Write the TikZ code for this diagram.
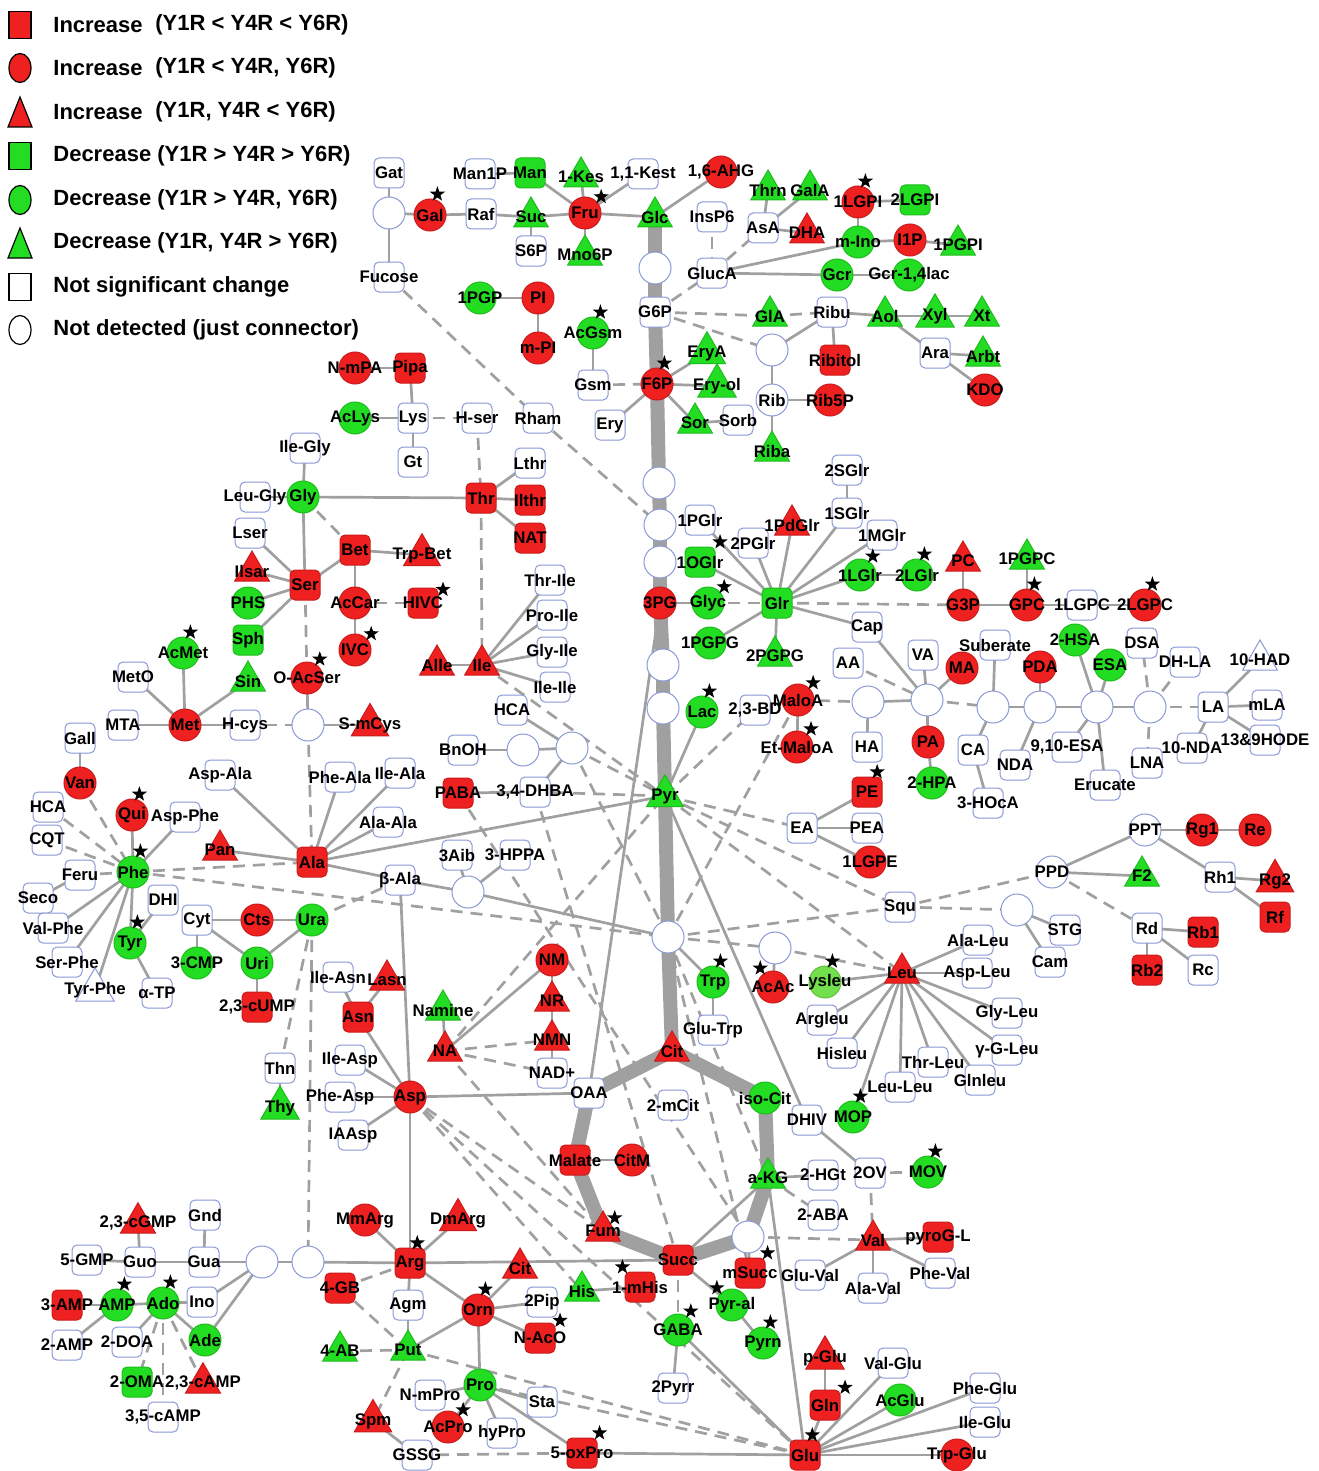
\documentclass[tikz,border=0pt]{standalone}
\usepackage{fontspec}
\setmainfont{Liberation Sans}
\usetikzlibrary{shapes.geometric, positioning}

\definecolor{upred}{HTML}{EE2020}
\definecolor{dngreen}{HTML}{22DD22}
\definecolor{litegreen}{HTML}{72E04C}
\definecolor{nsblue}{HTML}{8A98D6}
\definecolor{linkgray}{HTML}{A0A0A0}

\pgfdeclarelayer{links}
\pgfsetlayers{links,main}

\tikzset{
  met/.style={inner sep=0pt, text=black, line width=0.5pt,
    font=\bfseries\fontsize{8.4}{9}\selectfont,
    execute at begin node={\hbox to 0pt\bgroup\hss},
    execute at end node={\hss\egroup}},
  sqr/.style={met, rectangle, rounded corners=2.5pt, minimum size=15pt},
  crc/.style={met, circle, minimum size=16pt},
  trg/.style={met, regular polygon, regular polygon sides=3, minimum size=20pt},
  incr/.style={fill=upred, draw=upred!85!black},
  decr/.style={fill=dngreen, draw=dngreen!85!black},
  nochg/.style={fill=white, draw=nsblue},
  upsq/.style={sqr, incr}, upci/.style={crc, incr}, uptr/.style={trg, incr},
  dnsq/.style={sqr, decr}, dnci/.style={crc, decr}, dntr/.style={trg, decr},
  nssq/.style={sqr, nochg}, ndci/.style={crc, nochg}, nstr/.style={trg, nochg},
  starmark/.style={star, star points=5, star point ratio=2.5, fill=black, draw=none,
    inner sep=0pt, minimum size=8pt},
  starred/.style={label={[starmark]#1:{}}},
  starred/.default=80,
  link/.style={draw=linkgray, line width=1.35pt},
  dlink/.style={link, dash pattern=on 6pt off 4pt},
  trunk/.style={draw=linkgray, line width=7pt, line cap=round},
  keysq/.style={draw=black, line width=0.6pt, rectangle, minimum width=11pt, minimum height=13.5pt, inner sep=0pt},
  keyov/.style={draw=black, line width=0.6pt, ellipse, minimum width=11pt, minimum height=14.5pt, inner sep=0pt},
  keytxt/.style={anchor=west, inner sep=0pt, font=\bfseries\fontsize{11}{13}\selectfont}
}

\begin{document}
\begin{tikzpicture}[x=0.5pt, y=-0.5pt]
\useasboundingbox (0,0) rectangle (1318,1471);

% legend
\node[keysq, fill=upred] (key1) at (20,25) {};
\node[keytxt] (key1a) at (53,25) {Increase};
\node[keytxt] (key1b) at (155,25) {(Y1R < Y4R < Y6R)};
\node[keyov, fill=upred] (key2) at (20,68) {};
\node[keytxt] (key2a) at (53,68) {Increase};
\node[keytxt] (key2b) at (155,68) {(Y1R < Y4R, Y6R)};
\filldraw[fill=upred, draw=black, line width=0.6pt] (8,127) -- (32,127) -- (20,97) -- cycle;
\node[keytxt] (key3a) at (53,112) {Increase};
\node[keytxt] (key3b) at (155,112) {(Y1R, Y4R < Y6R)};
\node[keysq, fill=dngreen] (key4) at (20,156) {};
\node[keytxt] (key4a) at (53,156) {Decrease (Y1R > Y4R > Y6R)};
\node[keyov, fill=dngreen] (key5) at (20,200) {};
\node[keytxt] (key5a) at (53,200) {Decrease (Y1R > Y4R, Y6R)};
\filldraw[fill=dngreen, draw=black, line width=0.6pt] (8,258) -- (32,258) -- (20,228) -- cycle;
\node[keytxt] (key6a) at (53,243) {Decrease (Y1R, Y4R > Y6R)};
\node[keysq, fill=white] (key7) at (20,287) {};
\node[keytxt] (key7a) at (53,287) {Not significant change};
\node[keyov, fill=white] (key8) at (20,330) {};
\node[keytxt] (key8a) at (53,330) {Not detected (just connector)};

% sugars
\node[nssq] (gat) at (389,173) {Gat};
\node[ndci] (c1) at (389,213) {};
\node[upci, starred] (gal) at (430,215) {Gal};
\node[nssq] (fuc) at (389,277) {Fucose};
\node[nssq] (raf) at (481,214) {Raf};
\node[nssq] (manp) at (480,174) {Man1P};
\node[dnsq] (man) at (530,173) {Man};
\node[dntr] (suc) at (531,217) {Suc};
\node[nssq] (ssp) at (531,251) {S6P};
\node[dntr] (kes) at (581,177) {1-Kes};
\node[nssq] (kest) at (643,174) {1,1-Kest};
\node[upci, starred=45] (fru) at (585,213) {Fru};
\node[dntr] (mno) at (585,255) {Mno6P};
\node[dntr] (glc) at (655,217) {Glc};
\node[upci] (ahg) at (721,172) {1,6-AHG};
\node[nssq] (insp) at (712,217) {InsP6};
\node[nssq] (gluca) at (712,273) {GlucA};
\node[dntr] (thrn) at (768,190) {Thrn};
\node[dntr] (gala) at (810,190) {GalA};
\node[nssq] (asa) at (763,228) {AsA};
\node[uptr] (dha) at (807,233) {DHA};
\node[upci, starred] (lgpi) at (858,202) {1LGPI};
\node[dnci] (ino) at (858,242) {m-Ino};
\node[dnsq] (lgpit) at (915,200) {2LGPI};
\node[upci] (ip) at (910,240) {I1P};
\node[dntr] (pgpi) at (958,245) {1PGPI};
\node[dnci] (gcr) at (837,275) {Gcr};
\node[dnci] (gcrl) at (909,275) {Gcr-1,4lac};
\node[ndci] (c2) at (655,268) {};
\node[nssq] (g6p) at (655,312) {G6P};
\node[upci, starred] (f6p) at (657,384) {F6P};
\node[dntr] (gla) at (770,316) {GlA};
\node[nssq] (ribu) at (832,312) {Ribu};
\node[dntr] (aol) at (885,316) {Aol};
\node[dntr] (xyl) at (935,316) {Xyl};
\node[dntr] (xt) at (982,316) {Xt};
\node[nssq] (ara) at (935,353) {Ara};
\node[dntr] (arbt) at (983,356) {Arbt};
\node[upci] (kdo) at (985,390) {KDO};
\node[ndci] (c3) at (772,350) {};
\node[upsq] (ribl) at (835,360) {Ribitol};
\node[ndci] (rib) at (772,400) {Rib};
\node[upci] (ribp) at (830,400) {Rib5P};
\node[dntr] (riba) at (772,451) {Riba};
\node[dnci] (pgp) at (480,298) {1PGP};
\node[upci] (pi) at (538,298) {PI};
\node[upci] (mpi) at (538,348) {m-PI};
\node[dnci, starred] (acgsm) at (593,333) {AcGsm};
\node[nssq] (gsm) at (593,385) {Gsm};
\node[nssq] (ery) at (610,425) {Ery};
\node[dntr] (erya) at (707,353) {EryA};
\node[dntr] (eryol) at (717,386) {Ery-ol};
\node[dntr] (sor) at (695,423) {Sor};
\node[nssq] (sorb) at (738,420) {Sorb};

% amino acids, upper left
\node[nssq] (hser) at (477,418) {H-ser};
\node[nssq] (rham) at (538,418) {Rham};
\node[nssq] (lthr) at (530,463) {Lthr};
\node[upsq] (thr) at (481,498) {Thr};
\node[upsq] (ilthr) at (530,500) {Ilthr};
\node[upsq] (nat) at (530,538) {NAT};
\node[upci] (nmpa) at (355,368) {N-mPA};
\node[upsq] (pipa) at (410,368) {Pipa};
\node[dnci] (aclys) at (355,418) {AcLys};
\node[nssq] (lys) at (413,418) {Lys};
\node[nssq] (gt) at (413,462) {Gt};
\node[nssq] (ilegly) at (305,448) {Ile-Gly};
\node[dnci] (gly) at (303,497) {Gly};
\node[nssq] (leugly) at (255,497) {Leu-Gly};
\node[nssq] (lser) at (250,533) {Lser};
\node[uptr] (ilsar) at (252,571) {Ilsar};
\node[upsq] (ser) at (305,585) {Ser};
\node[upsq] (bet) at (355,550) {Bet};
\node[uptr] (trpbet) at (422,555) {Trp-Bet};
\node[dnci] (phs) at (248,603) {PHS};
\node[upci] (accar) at (355,603) {AcCar};
\node[upsq, starred=30] (hivc) at (423,603) {HIVC};
\node[dnsq] (sph) at (248,640) {Sph};
\node[upci, starred=45] (ivc) at (355,650) {IVC};
\node[dnci, starred] (acmet) at (183,653) {AcMet};
\node[nssq] (meto) at (133,677) {MetO};
\node[dntr] (sin) at (248,681) {Sin};
\node[upci, starred=60] (oacser) at (307,678) {O-AcSer};
\node[nssq] (mta) at (123,725) {MTA};
\node[upci] (met) at (185,725) {Met};
\node[nssq] (hcys) at (245,725) {H-cys};
\node[ndci] (c22) at (308,725) {};
\node[uptr] (smcys) at (370,725) {S-mCys};
\node[uptr] (alle) at (437,665) {Alle};
\node[uptr] (ile) at (482,665) {Ile};
\node[nssq] (thrile) at (550,580) {Thr-Ile};
\node[nssq] (proile) at (552,615) {Pro-Ile};
\node[nssq] (glyile) at (552,652) {Gly-Ile};
\node[nssq] (ileile) at (555,687) {Ile-Ile};
\node[nssq] (hca) at (512,710) {HCA};
\node[nssq] (bnoh) at (463,750) {BnOH};
\node[ndci] (c20) at (523,750) {};
\node[ndci] (c21) at (572,748) {};
\node[nssq] (dhba) at (535,792) {3,4-DHBA};
\node[upsq] (paba) at (458,793) {PABA};

% aromatics and alanine
\node[nssq] (gall) at (80,738) {Gall};
\node[upci] (van) at (80,783) {Van};
\node[nssq] (hcal) at (48,807) {HCA};
\node[upci, starred] (qui) at (132,815) {Qui};
\node[nssq] (aspphe) at (185,817) {Asp-Phe};
\node[nssq] (cqt) at (47,840) {CQT};
\node[nssq] (aspala) at (220,775) {Asp-Ala};
\node[nssq] (pheala) at (340,777) {Phe-Ala};
\node[nssq] (ileala) at (400,773) {Ile-Ala};
\node[nssq] (alaala) at (388,822) {Ala-Ala};
\node[uptr] (pan) at (220,850) {Pan};
\node[upsq] (ala) at (312,862) {Ala};
\node[nssq] (bala) at (400,880) {β-Ala};
\node[nssq] (feru) at (80,875) {Feru};
\node[dnci, starred] (phe) at (133,872) {Phe};
\node[nssq] (seco) at (38,898) {Seco};
\node[nssq] (dhi) at (163,900) {DHI};
\node[nssq] (valphe) at (53,928) {Val-Phe};
\node[dnci, starred] (tyr) at (130,943) {Tyr};
\node[nssq] (serphe) at (67,962) {Ser-Phe};
\node[nstr] (tyrphe) at (95,990) {Tyr-Phe};
\node[nssq] (atp) at (157,993) {α-TP};
\node[nssq] (cyt) at (197,920) {Cyt};
\node[upci] (cts) at (257,920) {Cts};
\node[dnci] (ura) at (312,920) {Ura};
\node[dnci] (cmp) at (197,963) {3-CMP};
\node[dnci] (uri) at (257,963) {Uri};
\node[upsq] (cump) at (257,1007) {2,3-cUMP};
\node[nssq] (ileasn) at (338,977) {Ile-Asn};
\node[uptr] (lasn) at (387,980) {Lasn};
\node[upsq] (asn) at (358,1017) {Asn};
\node[nssq] (thn) at (280,1068) {Thn};
\node[dntr] (thy) at (280,1108) {Thy};
\node[nssq] (ileasp) at (350,1060) {Ile-Asp};
\node[nssq] (pheasp) at (340,1097) {Phe-Asp};
\node[nssq] (iaasp) at (353,1135) {IAAsp};
\node[upci] (asp) at (410,1097) {Asp};

% central column
\node[ndci] (c4) at (659,483) {};
\node[ndci] (c5) at (660,525) {};
\node[ndci] (c6) at (660,562) {};
\node[upci] (pg3) at (660,603) {3PG};
\node[ndci] (c7) at (663,665) {};
\node[ndci] (c8) at (663,708) {};
\node[dntr] (pyr) at (665,796) {Pyr};
\node[ndci] (c9) at (668,937) {};
\node[uptr] (cit) at (672,1051) {Cit};

% glycerolipids
\node[nssq] (pglr) at (700,520) {1PGlr};
\node[dnsq, starred=45] (oglr) at (700,562) {1OGlr};
\node[dnci, starred=45] (glyc) at (708,603) {Glyc};
\node[dnsq] (glr) at (777,603) {Glr};
\node[dnci] (pgpg) at (710,643) {1PGPG};
\node[dntr] (pgpgt) at (775,656) {2PGPG};
\node[nssq] (pglrt) at (753,543) {2PGlr};
\node[uptr] (pdglr) at (792,525) {1PdGlr};
\node[nssq] (sglr) at (847,513) {1SGlr};
\node[nssq] (sglrt) at (847,470) {2SGlr};
\node[nssq] (mglr) at (882,535) {1MGlr};
\node[dnci, starred=60] (lglr) at (860,575) {1LGlr};
\node[dnci, starred] (lglrt) at (917,575) {2LGlr};
\node[uptr] (pc) at (963,561) {PC};
\node[upci] (g3p) at (963,605) {G3P};
\node[dntr] (pgpc) at (1027,559) {1PGPC};
\node[upci, starred] (gpc) at (1027,605) {GPC};
\node[nssq] (lgpc) at (1082,605) {1LGPC};
\node[upci, starred] (lgpct) at (1145,605) {2LGPC};
\node[nssq] (cap) at (867,627) {Cap};
\node[dnci, starred] (lac) at (702,712) {Lac};
\node[nssq] (bd) at (755,710) {2,3-BD};
\node[upci, starred=50] (maloa) at (798,700) {MaloA};
\node[upci, starred=55] (etmaloa) at (797,747) {Et-MaloA};
\node[nssq] (aa) at (848,663) {AA};
\node[ndci] (c10) at (868,702) {};
\node[nssq] (ha) at (867,747) {HA};
\node[upsq, starred=70] (pe) at (867,792) {PE};
\node[nssq] (ea) at (802,828) {EA};
\node[nssq] (pea) at (867,828) {PEA};
\node[upci] (lgpe) at (870,862) {1LGPE};

% fatty acids
\node[nssq] (va) at (923,655) {VA};
\node[upci] (ma) at (962,668) {MA};
\node[ndci] (c11) at (927,700) {};
\node[upci] (pa) at (928,742) {PA};
\node[dnci] (hpa) at (932,783) {2-HPA};
\node[nssq] (sub) at (995,645) {Suberate};
\node[ndci] (c12) at (993,707) {};
\node[nssq] (ca) at (973,750) {CA};
\node[nssq] (hoca) at (988,803) {3-HOcA};
\node[upci] (pda) at (1040,667) {PDA};
\node[ndci] (c13) at (1040,707) {};
\node[nssq] (nda) at (1015,765) {NDA};
\node[dnci] (hsa) at (1075,640) {2-HSA};
\node[dnci] (esa) at (1110,665) {ESA};
\node[ndci] (c14) at (1097,707) {};
\node[nssq] (esat) at (1067,747) {9,10-ESA};
\node[nssq] (eruc) at (1105,785) {Erucate};
\node[nssq] (dsa) at (1142,643) {DSA};
\node[ndci] (c15) at (1150,707) {};
\node[nssq] (lna) at (1147,763) {LNA};
\node[nssq] (dhla) at (1185,662) {DH-LA};
\node[nssq] (la) at (1213,707) {LA};
\node[nstr] (had) at (1260,660) {10-HAD};
\node[nssq] (mla) at (1267,705) {mLA};
\node[nssq] (hode) at (1265,740) {13\&9HODE};
\node[nssq] (ndat) at (1192,748) {10-NDA};

% ginsenosides
\node[ndci] (ppt) at (1145,830) {PPT};
\node[upci] (rgo) at (1202,830) {Rg1};
\node[upci] (re) at (1255,830) {Re};
\node[ndci] (ppd) at (1052,872) {PPD};
\node[dntr] (ftwo) at (1142,876) {F2};
\node[nssq] (rhone) at (1220,877) {Rh1};
\node[uptr] (rgtwo) at (1275,881) {Rg2};
\node[upsq] (rf) at (1275,917) {Rf};
\node[nssq] (squ) at (900,907) {Squ};
\node[ndci] (c16) at (1017,910) {};
\node[nssq] (stg) at (1065,930) {STG};
\node[nssq] (cam) at (1050,962) {Cam};
\node[nssq] (rd) at (1147,928) {Rd};
\node[upsq] (rbo) at (1203,932) {Rb1};
\node[upsq] (rbt) at (1147,970) {Rb2};
\node[nssq] (rcn) at (1203,970) {Rc};

% leucine and valine
\node[uptr] (leu) at (902,973) {Leu};
\node[nssq] (alaleu) at (978,940) {Ala-Leu};
\node[nssq] (aspleu) at (977,973) {Asp-Leu};
\node[nssq] (glyleu) at (1007,1013) {Gly-Leu};
\node[nssq] (gglu) at (1007,1050) {γ-G-Leu};
\node[nssq] (glnleu) at (980,1080) {Glnleu};
\node[nssq] (thrleu) at (933,1062) {Thr-Leu};
\node[nssq] (leuleu) at (900,1087) {Leu-Leu};
\node[ndci] (c17) at (775,948) {};
\node[dnci, starred] (trp) at (713,982) {Trp};
\node[nssq] (glutrp) at (713,1030) {Glu-Trp};
\node[upci, starred=120] (acac) at (773,987) {AcAc};
\node[crc, fill=litegreen, draw=litegreen!85!black, starred] (lysleu) at (825,982) {Lysleu};
\node[nssq] (argleu) at (822,1020) {Argleu};
\node[nssq] (hisleu) at (842,1053) {Hisleu};
\node[dnci, starred] (mop) at (853,1117) {MOP};
\node[nssq] (dhiv) at (807,1120) {DHIV};
\node[nssq] (ov) at (870,1173) {2OV};
\node[dnci, starred] (mov) at (928,1172) {MOV};
\node[nssq] (hgt) at (823,1175) {2-HGt};
\node[nssq] (aba) at (823,1215) {2-ABA};
\node[uptr] (val) at (873,1240) {Val};
\node[upsq] (pyrog) at (938,1237) {pyroG-L};
\node[nssq] (pheval) at (940,1273) {Phe-Val};
\node[nssq] (alaval) at (873,1288) {Ala-Val};
\node[nssq] (gluval) at (810,1275) {Glu-Val};

% NAD
\node[upci] (nm) at (552,960) {NM};
\node[uptr] (nr) at (552,1001) {NR};
\node[uptr] (nmn) at (552,1040) {NMN};
\node[nssq] (nad) at (552,1073) {NAD+};
\node[uptr] (na) at (445,1051) {NA};
\node[dntr] (namine) at (443,1010) {Namine};
\node[nssq] (aib) at (457,855) {3Aib};
\node[nssq] (hppa) at (515,855) {3-HPPA};
\node[ndci] (c19) at (468,892) {};

% TCA cycle
\node[nssq] (oaa) at (589,1093) {OAA};
\node[nssq] (mcit) at (673,1105) {2-mCit};
\node[dnci] (isocit) at (765,1098) {iso-Cit};
\node[upsq] (malate) at (575,1160) {Malate};
\node[upci] (citm) at (632,1160) {CitM};
\node[uptr, starred=50] (fum) at (603,1231) {Fum};
\node[upsq] (succ) at (678,1260) {Succ};
\node[ndci] (c18) at (748,1237) {};
\node[dntr] (akg) at (768,1178) {a-KG};
\node[upsq, starred=50] (msucc) at (750,1273) {mSucc};
\node[dntr] (his) at (582,1291) {His};
\node[upsq, starred=130] (mhis) at (640,1287) {1-mHis};
\node[dnci, starred=130] (pyral) at (732,1305) {Pyr-al};
\node[dnci, starred] (pyrn) at (763,1343) {Pyrn};
\node[dnci, starred=60] (gaba) at (678,1330) {GABA};
\node[nssq] (pyrr) at (673,1388) {2Pyrr};
\node[uptr] (pglu) at (825,1358) {p-Glu};
\node[upsq, starred=40] (gln) at (825,1405) {Gln};
\node[upsq, starred] (glu) at (805,1455) {Glu};
\node[nssq] (valglu) at (893,1363) {Val-Glu};
\node[dnci] (acglu) at (900,1400) {AcGlu};
\node[nssq] (pheglu) at (985,1388) {Phe-Glu};
\node[nssq] (ileglu) at (985,1422) {Ile-Glu};
\node[upci] (trpglu) at (957,1455) {Trp-Glu};

% nucleotides
\node[uptr] (cgmp) at (138,1223) {2,3-cGMP};
\node[nssq] (gnd) at (205,1215) {Gnd};
\node[nssq] (gmp) at (87,1260) {5-GMP};
\node[nssq] (guo) at (140,1262) {Guo};
\node[nssq] (gua) at (204,1262) {Gua};
\node[ndci] (c23) at (262,1262) {};
\node[ndci] (c24) at (308,1262) {};
\node[upsq] (amp3) at (67,1305) {3-AMP};
\node[dnci, starred] (amp) at (117,1305) {AMP};
\node[dnci, starred] (ado) at (163,1303) {Ado};
\node[nssq] (inosine) at (202,1302) {Ino};
\node[dnci] (ade) at (205,1340) {Ade};
\node[nssq] (amp2) at (67,1345) {2-AMP};
\node[nssq] (doa) at (127,1342) {2-DOA};
\node[dnsq] (oma) at (137,1382) {2-OMA};
\node[uptr] (camp) at (203,1383) {2,3-cAMP};
\node[nssq] (campt) at (163,1417) {3,5-cAMP};

% arginine and proline
\node[upci] (mmarg) at (365,1220) {MmArg};
\node[uptr] (dmarg) at (458,1220) {DmArg};
\node[upsq, starred] (arg) at (410,1263) {Arg};
\node[upsq] (gb) at (340,1288) {4-GB};
\node[nssq] (agm) at (408,1305) {Agm};
\node[dntr] (ab) at (340,1351) {4-AB};
\node[dntr] (put) at (408,1350) {Put};
\node[uptr] (spm) at (373,1421) {Spm};
\node[nssq] (gssg) at (417,1455) {GSSG};
\node[nssq] (nmpro) at (430,1395) {N-mPro};
\node[uptr] (citr) at (520,1268) {Cit};
\node[upci, starred] (orn) at (478,1310) {Orn};
\node[nssq] (pip) at (542,1302) {2Pip};
\node[upsq, starred=40] (naco) at (540,1338) {N-AcO};
\node[dnci] (pro) at (480,1385) {Pro};
\node[nssq] (sta) at (542,1402) {Sta};
\node[nssq] (hypro) at (502,1433) {hyPro};
\node[upci, starred=50] (acpro) at (448,1427) {AcPro};
\node[upsq, starred=50] (oxpro) at (582,1453) {5-oxPro};

\begin{pgfonlayer}{links}
\fill[white] (0,0) rectangle (1318,1471);
\foreach \a/\b in {glc/c2, c2/g6p, g6p/f6p, f6p/c4, c4/c5, c5/c6, c6/pg3, pg3/c7, c7/c8, c8/pyr, pyr/c9, c9/cit,
    cit/oaa, cit/isocit, oaa/malate, malate/fum, fum/succ, succ/c18, c18/akg, akg/isocit}
  \draw[trunk] (\a.center) -- (\b.center);
\foreach \a/\b in {gat/c1, c1/gal, c1/fuc, gal/raf, raf/suc, suc/fru, fru/glc, manp/man, man/fru, kes/fru, kest/fru,
    suc/ssp, fru/mno, glc/ahg, gluca/ino, gluca/gcr, gcr/gcrl, asa/thrn, asa/gala, asa/dha, lgpi/lgpit, lgpi/ino,
    ino/ip, ip/pgpi, ribu/aol, aol/xyl, xyl/xt, aol/ara, ara/arbt, ara/kdo, c3/ribu, ribu/ribl, c3/rib, rib/ribp,
    rib/riba, pgp/pi, pi/mpi, acgsm/gsm, f6p/erya, f6p/eryol, f6p/sor, sor/sorb, f6p/ery,
    nmpa/pipa, pipa/lys, aclys/lys, lys/gt, thr/lthr, thr/ilthr, thr/nat, gly/thr, ilegly/gly, leugly/gly, gly/ser,
    ser/lser, ser/ilsar, ser/phs, ser/sph, ser/bet, bet/trpbet, bet/accar, accar/ivc, oacser/c22, c22/smcys,
    met/hcys, mta/met, meto/met, acmet/met, met/sin, alle/ile, ile/thrile, ile/proile, ile/glyile, ile/ileile,
    gall/van, qui/phe, aspphe/phe, feru/seco, phe/valphe, phe/serphe, phe/tyrphe, phe/tyr, dhi/tyr, tyr/atp,
    pan/ala, aspala/ala, pheala/ala, ileala/ala, alaala/ala, ala/pyr, ala/bala, bala/c19, c19/c9, aib/c19,
    hppa/c19, bala/asp, ura/cts, cts/cyt, cyt/cmp, cyt/uri, uri/ura, uri/cump, thn/thy, asn/ileasn, asn/lasn,
    asn/asp, ileasp/asp, pheasp/asp, iaasp/asp, asp/oaa, asp/arg,
    na/namine, na/nm, nm/nr, nr/nmn, nmn/nad, dhba/paba, bnoh/c20, c20/c21, hca/c21, c21/dhba,
    g3p/pc, g3p/gpc, gpc/pgpc, gpc/lgpc, lgpc/lgpct, glr/lglr, lglr/lglrt, glr/mglr, glr/sglr, sglr/sglrt,
    glr/pdglr, glr/pglrt, glr/pglr, glr/oglr, glyc/pg3, glr/pgpg, glr/pgpgt, glr/cap, cap/c11, c10/c11, c10/ha,
    va/c11, ma/c11, c11/pa, pa/hpa, c12/sub, c12/ca, ca/hoca, c12/c13, c13/pda, c13/nda, c13/c14, c14/hsa,
    c14/esa, c14/esat, c14/eruc, c14/c15, la/had, la/mla, la/hode, la/ndat,
    maloa/etmaloa, pyr/lac, ea/pe, ea/pea, ea/lgpe, pyr/dhiv, dhiv/ov, mop/leu, c9/trp, trp/glutrp, c17/acac,
    leu/lysleu, leu/argleu, leu/hisleu, leu/leuleu, leu/thrleu, leu/glnleu, leu/gglu, leu/glyleu, leu/aspleu,
    leu/alaleu, ppt/rgo, rgo/re, ppt/ppd, ppt/rhone, rhone/rgtwo, rhone/rf, ppd/ftwo, rd/rbo, rd/rbt, rd/rcn,
    c16/stg, c16/cam, pg3/oaa, malate/citm, akg/hgt, val/pyrog, val/pheval, val/alaval, val/gluval, c18/msucc,
    c23/c24, c24/arg, arg/succ, gua/c23, guo/gua, gmp/guo, guo/cgmp, gua/gnd, inosine/c23, ade/c23,
    ado/inosine, amp/ado, amp3/amp, amp/amp2, ado/doa, ado/ade,
    arg/mmarg, arg/dmarg, arg/agm, agm/put, arg/orn, spm/gssg, oxpro/glu, put/orn, orn/citr, orn/pip, orn/naco,
    orn/pro, pro/nmpro, pro/acpro, pro/hypro, pro/sta, pro/oxpro, his/mhis, gaba/pyrr, gaba/glu, succ/pyral,
    pyral/pyrn, succ/akg, akg/glu, pglu/gln, gln/glu, glu/valglu, glu/acglu, glu/pheglu, glu/ileglu, glu/trpglu}
  \draw[link] (\a.center) -- (\b.center);
\foreach \a/\b in {fuc/rham, rham/c5, insp/gluca, gluca/asa, g6p/gluca, g6p/gla, gla/ribu, g6p/c3, gsm/f6p,
    lys/hser, hser/thr, thr/ile, gly/bet, accar/hivc, ser/oacser, hcys/c22, c22/ala, van/phe, hcal/phe, cqt/phe,
    feru/phe, phe/ala, phe/c9, bala/ura, ura/thn, ura/c24, glr/g3p, glyc/glr, maloa/c10, aa/c11, c11/c12,
    c15/dsa, c15/dhla, c15/lna, c15/la, pyr/dhba, c21/pyr, ile/pyr, pyr/bd, pyr/ea, pyr/squ, pyr/leu, maloa/c9,
    c9/c17, c17/leu, c9/squ, squ/c16, squ/ppd, ppd/rd, ov/mov, ov/val, akg/aba, c18/val, na/pyr, na/nmn,
    na/nad, na/fum, dhba/succ, c21/c9, paba/c18, c9/akg, c9/msucc, arg/gb, gb/put, ab/put, put/spm,
    gssg/oxpro, pro/glu, put/glu, asp/fum, asp/his, asp/glu, succ/gaba, ado/oma, ado/campt, ado/camp}
  \draw[dlink] (\a.center) -- (\b.center);
\end{pgfonlayer}
\end{tikzpicture}
\end{document}
